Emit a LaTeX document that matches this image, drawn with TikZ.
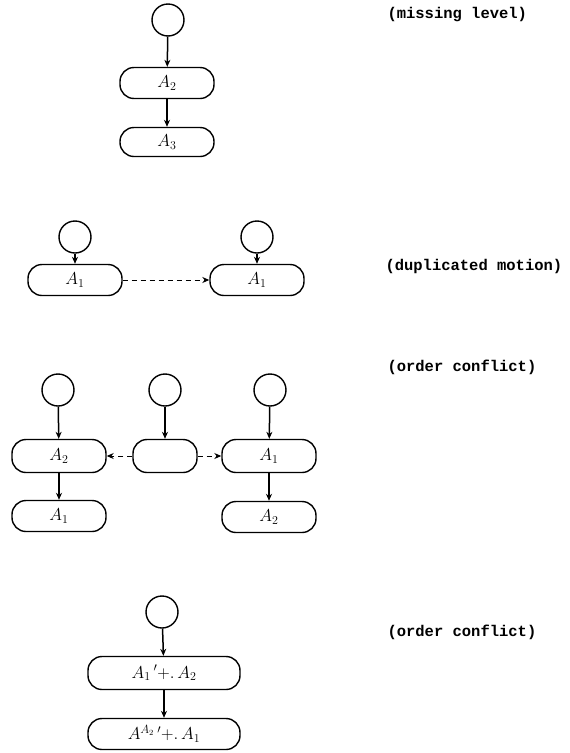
\documentclass[tikz,border=0pt]{standalone}
\usepackage{fontspec}
\newfontfamily\labfont{Liberation Mono}[BoldFont={Liberation Mono Bold}]
\usetikzlibrary{arrows.meta}
\begin{document}
\begin{tikzpicture}[x=1pt,y=-1pt,
  circ/.style={draw,circle,line width=1.4pt,minimum size=32pt,inner sep=0pt},
  pill/.style={draw,rectangle,rounded corners=14pt,line width=1.4pt,minimum width=94pt,minimum height=31pt,inner sep=0pt,font=\fontsize{17}{19}\selectfont},
  wide/.style={pill,minimum width=152pt},
  lab/.style={font=\labfont\bfseries\fontsize{15.5}{18}\selectfont,anchor=west},
  arr/.style={-{Stealth[length=7pt,width=6pt]},line width=1.5pt},
  darr/.style={-{Stealth[length=7pt,width=6pt]},line width=1pt,dash pattern=on 5pt off 4pt}]
\useasboundingbox (0,0) rectangle (570,753);
% section 1
\node[circ] (c1) at (168,20) {};
\node[pill] (b1) at (167,83) {$A_2$};
\node[pill,minimum height=29pt] (b2) at (167,142) {$A_3$};
\draw[arr] (c1) -- (b1);
\draw[arr] (b1) -- (b2);
\node[lab] (l1) at (384,15) {(missing level)};
% section 2
\node[circ] (c2a) at (75,237) {};
\node[circ] (c2b) at (257,237) {};
\node[pill] (b2a) at (75,280) {$A_1$};
\node[pill] (b2b) at (257,280) {$A_1$};
\draw[arr] (c2a) -- (b2a);
\draw[arr] (c2b) -- (b2b);
\draw[darr] (b2a) -- (b2b);
\node[lab] (l2) at (382,266) {(duplicated motion)};
% section 3
\node[circ] (c3a) at (58,390) {};
\node[circ] (c3b) at (165,390) {};
\node[circ] (c3c) at (270,390) {};
\node[pill,minimum height=33pt] (b3a) at (59,456) {$A_2$};
\node[pill,minimum width=64pt,minimum height=33pt] (b3b) at (165,456) {};
\node[pill,minimum height=33pt] (b3c) at (269,456) {$A_1$};
\node[pill] (b3d) at (59,516) {$A_1$};
\node[pill] (b3e) at (269,517) {$A_2$};
\draw[arr] (c3a) -- (b3a);
\draw[arr] (c3b) -- (b3b);
\draw[arr] (c3c) -- (b3c);
\draw[arr] (b3a) -- (b3d);
\draw[arr] (b3c) -- (b3e);
\draw[darr] (b3b) -- (b3a);
\draw[darr] (b3b) -- (b3c);
\node[lab] (l3) at (384,367) {(order conflict)};
% section 4
\node[circ] (c4) at (162,612) {};
\node[wide,minimum height=33pt] (b4a) at (164,673) {$A_1\,{}'{+}.\,A_2$};
\node[wide] (b4b) at (164,734) {$A^{A_2}\,{}'{+}.\,A_1$};
\draw[arr] (c4) -- (b4a);
\draw[arr] (b4a) -- (b4b);
\node[lab] (l4) at (384,632) {(order conflict)};
\end{tikzpicture}
\end{document}
